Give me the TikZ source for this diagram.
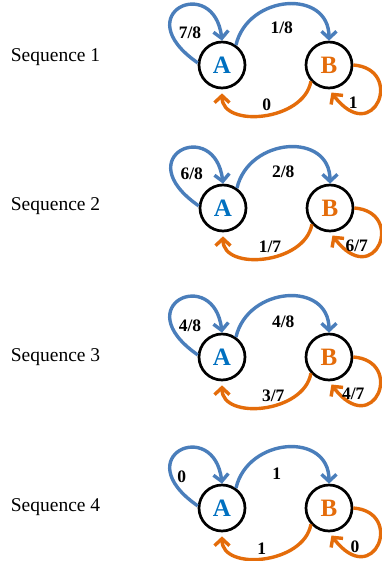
\documentclass[tikz,border=0pt]{standalone}
\usepackage{fontspec}
\setmainfont{Liberation Serif}
\usetikzlibrary{arrows.meta}
\definecolor{lblue}{RGB}{74,126,187}
\definecolor{tblue}{RGB}{0,112,192}
\definecolor{lorange}{RGB}{228,108,10}
\tikzset{
  state/.style={circle,draw=black,line width=2.7pt,minimum size=46pt,inner sep=0pt,
    font=\fontsize{25}{26}\selectfont\bfseries},
  edgeb/.style={draw=lblue,line width=3.4pt,-{Straight Barb[length=7pt,width=15pt]}},
  edgeo/.style={draw=lorange,line width=3.4pt,-{Straight Barb[length=7pt,width=15pt]}},
  elab/.style={anchor=base,inner sep=0pt,font=\fontsize{17.5}{18}\selectfont\bfseries},
  seqlab/.style={anchor=base west,inner sep=0pt,font=\fontsize{19.5}{20}\selectfont},
}
\newcommand\seqdiag[4]{%
  \node[state,text=tblue] (A#1) at (#2,#3) {A};
  \node[state,text=lorange] (B#1) at (#2+107,#3) {B};
  \node[seqlab] (S#1) at (10.7,#4) {Sequence #1};
  \draw[edgeb] (A#1.175) .. controls +(-72,-50) and +(-8,-67) .. (A#1.north);
  \draw[edgeb] (A#1.55) .. controls +(12,-51) and +(0,-52) .. (B#1.north);
  \draw[edgeo,shorten >=4pt] (B#1.222) .. controls +(-7,40) and +(0,39) .. (A#1.south);
  \draw[edgeo,shorten >=4pt] (B#1.0) .. controls +(52,4) and +(45,59) .. (B#1.south);
}
\begin{document}
\begin{tikzpicture}[x=1pt,y=-1pt]
\useasboundingbox (0,0) rectangle (381,561);
\seqdiag{1}{222}{65}{61.7}
\seqdiag{2}{223}{208}{211}
\seqdiag{3}{222}{357}{361.7}
\seqdiag{4}{222}{508}{511}
% labels sequence 1
\node[elab] (l1a) at (190,39) {7/8};
\node[elab] (l1b) at (281.7,34) {1/8};
\node[elab] (l1c) at (266.7,111) {0};
\node[elab] (l1d) at (353.3,109) {1};
% labels sequence 2
\node[elab] (l2a) at (191.7,179) {6/8};
\node[elab] (l2b) at (283.3,177.5) {2/8};
\node[elab] (l2c) at (270,252.5) {1/7};
\node[elab] (l2d) at (356.7,251) {6/7};
% labels sequence 3
\node[elab] (l3a) at (190,331) {4/8};
\node[elab] (l3b) at (283.3,327.5) {4/8};
\node[elab] (l3c) at (273.3,401) {3/7};
\node[elab] (l3d) at (353.3,399) {4/7};
% labels sequence 4
\node[elab] (l4a) at (181.7,482.5) {0};
\node[elab] (l4b) at (276.7,479) {1};
\node[elab] (l4c) at (261.7,554) {1};
\node[elab] (l4d) at (355,552.5) {0};
\end{tikzpicture}
\end{document}
